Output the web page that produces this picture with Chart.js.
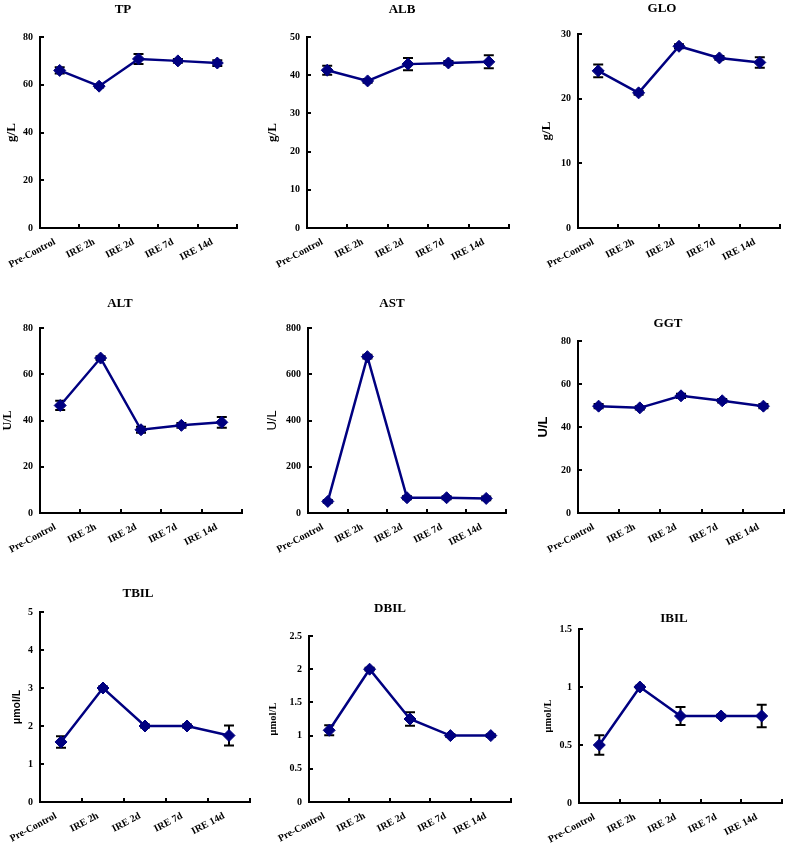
<!DOCTYPE html>
<html><head><meta charset="utf-8">
<script src="https://cdn.jsdelivr.net/npm/chart.js@4.4.1/dist/chart.umd.min.js"></script>
<style>
html,body{margin:0;padding:0;background:#fff;}
body{width:787px;height:850px;position:relative;overflow:hidden;}
canvas{position:absolute;}
</style>
</head><body>
<script>
// ---------- DATA ----------
const categories = ['Pre-Control', 'IRE 2h', 'IRE 2d', 'IRE 7d', 'IRE 14d'];
const panelNames = ['TP', 'ALB', 'GLO', 'ALT', 'AST', 'GGT', 'TBIL', 'DBIL', 'IBIL'];
const unitLabels = ['g/L', 'g/L', 'g/L', 'U/L', 'U/L', 'U/L', 'μmol/L', 'μmol/L', 'μmol/L'];

const tpMean   = [66.0, 59.4, 70.8, 70.0, 69.1];
const tpSD     = [1.3, 0.6, 2.1, 0.8, 1.2];
const albMean  = [41.3, 38.5, 42.9, 43.2, 43.5];
const albSD    = [1.2, 0.5, 1.6, 0.5, 1.7];
const gloMean  = [24.3, 20.9, 28.1, 26.3, 25.6];
const gloSD    = [1.0, 0.3, 0.3, 0.3, 0.8];
const altMean  = [46.5, 67.0, 36.0, 37.9, 39.2];
const altSD    = [2.0, 0.8, 1.3, 1.0, 2.3];
const astMean  = [50, 676, 66, 66, 63];
const astSD    = [6, 8, 6, 6, 8];
const ggtMean  = [49.7, 48.9, 54.5, 52.2, 49.7];
const ggtSD    = [1.0, 0.8, 1.0, 0.8, 1.0];
const tbilMean = [1.58, 3.0, 2.0, 2.0, 1.75];
const tbilSD   = [0.15, 0.04, 0.04, 0.04, 0.26];
const dbilMean = [1.08, 2.0, 1.25, 1.0, 1.0];
const dbilSD   = [0.075, 0.02, 0.1, 0.02, 0.02];
const ibilMean = [0.5, 1.0, 0.75, 0.75, 0.75];
const ibilSD   = [0.085, 0.01, 0.077, 0.01, 0.098];

const yMaxValues = [80, 50, 30, 80, 800, 80, 5, 2.5, 1.5];
const yStepValues = [20, 10, 10, 20, 200, 20, 1, 0.5, 0.5];

const meanSeries = [tpMean, albMean, gloMean, altMean, astMean, ggtMean, tbilMean, dbilMean, ibilMean];
const sdSeries = [tpSD, albSD, gloSD, altSD, astSD, ggtSD, tbilSD, dbilSD, ibilSD];

// ---------- LAYOUT (pixel geometry of each panel) ----------
const geometry = [
  {aL: 40,  aR: 237, aT: 37,  aB: 228, tX: 123, tY: 10,  yX: 12,  top: 0,   bottom: 290, cell: 0},
  {aL: 307, aR: 509, aT: 37,  aB: 228, tX: 402, tY: 10,  yX: 273, top: 0,   bottom: 290, cell: 262},
  {aL: 578, aR: 780, aT: 34,  aB: 228, tX: 662, tY: 9,   yX: 547, top: 0,   bottom: 290, cell: 524},
  {aL: 40,  aR: 242, aT: 328, aB: 513, tX: 120, tY: 304, yX: 8,   top: 290, bottom: 575, cell: 0},
  {aL: 308, aR: 506, aT: 328, aB: 513, tX: 392, tY: 304, yX: 272, top: 290, bottom: 575, cell: 262},
  {aL: 578, aR: 784, aT: 341, aB: 513, tX: 668, tY: 324, yX: 543, top: 290, bottom: 575, cell: 524},
  {aL: 40,  aR: 250, aT: 612, aB: 802, tX: 138, tY: 594, yX: 17,  top: 575, bottom: 850, cell: 0},
  {aL: 309, aR: 511, aT: 636, aB: 802, tX: 390, tY: 609, yX: 273, top: 575, bottom: 850, cell: 262},
  {aL: 579, aR: 782, aT: 629, aB: 803, tX: 674, tY: 619, yX: 548, top: 575, bottom: 850, cell: 524}
];
const yTitleFamilies = ['serif', 'serif', 'serif', 'serif', 'sans', 'sans', 'sans', 'serif', 'serif'];
const yTitleSizes = [13, 13, 13, 12, 13, 13, 10.5, 10.5, 10.5];
const yTitleWeights = ['bold', 'bold', 'bold', 'bold', 'normal', 'bold', 'bold', 'bold', 'bold'];

// ---------- STYLE ----------
const SERIF = "'Liberation Serif', 'Times New Roman', serif";
const SANS = "'Liberation Sans', Arial, sans-serif";
const NAVY = '#000080';
Chart.defaults.color = '#000';
Chart.defaults.font.family = SERIF;

const errorBarsPlugin = {
  id: 'errorBars',
  beforeDatasetsDraw(chart, args, opts) {
    const {ctx, scales: {x, y}} = chart;
    const means = chart.data.datasets[0].data;
    const sds = opts.sd || [];
    ctx.save();
    ctx.strokeStyle = '#000';
    ctx.lineWidth = 2;
    means.forEach((m, i) => {
      const px = x.getPixelForValue(i);
      const yTop = y.getPixelForValue(m + sds[i]);
      const yBot = y.getPixelForValue(m - sds[i]);
      ctx.beginPath();
      ctx.moveTo(px, yTop); ctx.lineTo(px, yBot);
      ctx.moveTo(px - 5, yTop); ctx.lineTo(px + 5, yTop);
      ctx.moveTo(px - 5, yBot); ctx.lineTo(px + 5, yBot);
      ctx.stroke();
    });
    ctx.restore();
  }
};

const innerTicksPlugin = {
  id: 'innerTicks',
  afterDraw(chart) {
    const {ctx, scales: {x, y}} = chart;
    ctx.save();
    ctx.strokeStyle = '#000';
    ctx.lineWidth = 2;
    ctx.beginPath();
    y.ticks.forEach(t => {
      const py = Math.round(y.getPixelForValue(t.value));
      ctx.moveTo(y.right, py); ctx.lineTo(y.right + 4, py);
    });
    const n = x.getLabels().length;
    for (let i = 0; i <= n; i++) {
      const px = Math.round(x.getPixelForValue(i - 0.5));
      ctx.moveTo(px, x.top); ctx.lineTo(px, x.top - 4);
    }
    ctx.stroke();
    ctx.restore();
  }
};

geometry.forEach((g, i) => {
  // left axis box width (room for tick labels) and right spacer so the title centres at tX
  const ws = Math.max(30, g.aL - (2 * g.tX - g.aR));
  const scaleLeft = g.aL - ws;
  const w2 = Math.max(0, 2 * g.tX - scaleLeft - g.aR);
  const Lc = Math.floor(Math.min(g.cell, g.yX - 12, g.aL - 48, scaleLeft));
  const Tc = g.top;
  const pr = 12;
  const Wc = Math.ceil(g.aR + w2 + pr - Lc);
  const Hc = g.bottom - Tc;
  const pl = scaleLeft - Lc;
  const hx = 45;
  const pb = Tc + Hc - g.aB - hx;
  const titleSize = 13, titleLH = titleSize * 1.2;
  const tPadTop = g.tY - Tc - titleLH / 2;
  const tPadBottom = g.aT - Tc - titleLH - tPadTop;
  const ySize = yTitleSizes[i], yLH = ySize * 1.2;
  const yPad = g.yX - scaleLeft - yLH / 2;

  const canvas = document.createElement('canvas');
  canvas.width = Wc; canvas.height = Hc;
  canvas.style.left = Lc + 'px';
  canvas.style.top = Tc + 'px';
  canvas.style.width = Wc + 'px';
  canvas.style.height = Hc + 'px';
  document.body.appendChild(canvas);

  const isSans = yTitleFamilies[i] === 'sans';

  new Chart(canvas, {
    type: 'line',
    data: {
      labels: categories,
      datasets: [{
        data: meanSeries[i],
        yAxisID: 'y',
        borderColor: NAVY,
        backgroundColor: NAVY,
        borderWidth: 2.5,
        pointStyle: 'rectRot',
        pointRadius: 6,
        pointBorderWidth: 1,
        pointBackgroundColor: NAVY,
        pointBorderColor: NAVY,
        tension: 0,
        clip: false
      }]
    },
    options: {
      responsive: false,
      animation: false,
      devicePixelRatio: 1,
      layout: {padding: {left: pl, right: pr, top: 0, bottom: pb}},
      plugins: {
        legend: {display: false},
        tooltip: {enabled: false},
        title: {
          display: true,
          text: panelNames[i],
          color: '#000',
          font: {family: SERIF, size: titleSize, weight: 'bold', lineHeight: 1.2},
          padding: {top: tPadTop, bottom: tPadBottom}
        },
        errorBars: {sd: sdSeries[i]}
      },
      scales: {
        x: {
          type: 'category',
          offset: true,
          afterFit(scale) { scale.height = hx; },
          grid: {display: true, offset: true, drawOnChartArea: false, drawTicks: false},
          border: {display: true, color: '#000', width: 2},
          ticks: {
            color: '#000',
            font: {family: SERIF, size: 10, weight: 'bold'},
            minRotation: 28, maxRotation: 28,
            padding: 8,
            labelOffset: -5,
            autoSkip: false
          }
        },
        y: {
          position: 'left',
          min: 0,
          max: yMaxValues[i],
          afterFit(scale) { scale.width = ws; },
          grid: {display: true, drawOnChartArea: false, drawTicks: false},
          border: {display: true, color: '#000', width: 2},
          ticks: {
            stepSize: yStepValues[i],
            color: '#000',
            padding: 7,
            font: {family: SERIF, size: 10, weight: 'bold'},
            callback: v => String(+Number(v).toFixed(3))
          },
          title: {
            display: true,
            text: unitLabels[i],
            color: '#000',
            font: {family: isSans ? SANS : SERIF, size: ySize, weight: yTitleWeights[i], lineHeight: 1.2},
            padding: {top: yPad, bottom: 0}
          }
        },
        spacer: {
          type: 'linear',
          position: 'right',
          display: true,
          afterFit(scale) { scale.width = w2; },
          grid: {display: false},
          border: {display: false},
          ticks: {display: false}
        }
      }
    },
    plugins: [errorBarsPlugin, innerTicksPlugin]
  });
});
</script>
</body></html>
